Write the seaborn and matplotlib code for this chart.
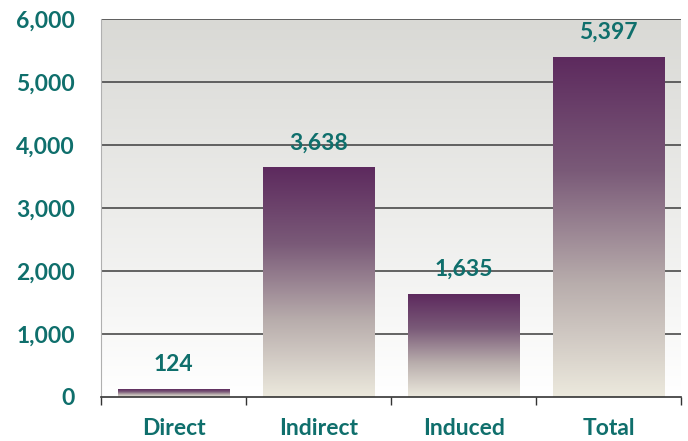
import numpy as np
import pandas as pd
import matplotlib.pyplot as plt
import seaborn as sns
from matplotlib.colors import LinearSegmentedColormap

# === Données ===
categories = ["Direct", "Indirect", "Induced", "Total"]
values = [124, 3638, 1635, 5397]
y_ticks = [0, 1000, 2000, 3000, 4000, 5000, 6000]

teal = "#0f6f6c"
bar_cmap = LinearSegmentedColormap.from_list("bar", ["#ece9dd", "#b8adac", "#7a5a78", "#5d2a5e"])
bg_cmap = LinearSegmentedColormap.from_list("bg", ["#ffffff", "#d9d9d5"])

sns.set_style("white")
plt.rcParams["font.family"] = ["Lato", "DejaVu Sans"]

fig = plt.figure(figsize=(6.88, 4.41), dpi=100)
ax = fig.add_axes([0.147, 0.0998, 0.843, 0.857])

df = pd.DataFrame({"cat": categories, "val": values})
sns.barplot(data=df, x="cat", y="val", ax=ax, width=0.77, color="white", zorder=3)

# fond dégradé
grad = np.linspace(0, 1, 256).reshape(-1, 1)
ax.imshow(grad, cmap=bg_cmap, origin="lower", aspect="auto",
          extent=[-0.5, 3.5, 0, 6000], zorder=0)

# barres en dégradé
for p in ax.patches:
    x0, y0 = p.get_x(), p.get_y()
    w, h = p.get_width(), p.get_height()
    ax.imshow(grad, cmap=bar_cmap, origin="lower", aspect="auto",
              extent=[x0, x0 + w, y0, y0 + h], zorder=3)
    p.set_facecolor("none")
    p.set_edgecolor("none")
    ax.text(x0 + w / 2, y0 + h + 220, f"{int(h):,}", ha="center", va="bottom",
            color=teal, fontsize=16.5, fontweight="bold", zorder=4)

ax.set_xlim(-0.5, 3.5)
ax.set_ylim(0, 6000)

# grille
ax.set_yticks(y_ticks)
ax.set_yticklabels([f"{v:,}" for v in y_ticks])
for v in y_ticks[1:]:
    ax.axhline(v, color="#4a4a4a", linewidth=1.2, zorder=1)

ax.set_xticks([-0.5, 0.5, 1.5, 2.5, 3.5], minor=False)
ax.set_xticklabels([])
ax.set_xticks([0, 1, 2, 3], minor=True)
ax.set_xticklabels(categories, minor=True)
ax.tick_params(axis="x", which="major", direction="out", length=6, width=1, color="#333333", bottom=True)
ax.tick_params(axis="x", which="minor", length=0, pad=15, labelsize=16.5, labelcolor=teal)
ax.tick_params(axis="y", length=0, pad=19, labelsize=16.5, labelcolor=teal)
for lab in ax.get_xticklabels(minor=True) + ax.get_yticklabels():
    lab.set_fontweight("bold")

ax.set_xlabel("")
ax.set_ylabel("")
for s in ["top", "right"]:
    ax.spines[s].set_visible(False)
ax.spines["left"].set_color("#b0b0b0")
ax.spines["bottom"].set_color("#333333")
ax.spines["bottom"].set_linewidth(1.2)
ax.spines["bottom"].set_zorder(5)

fig.savefig("out.png", dpi=100)
